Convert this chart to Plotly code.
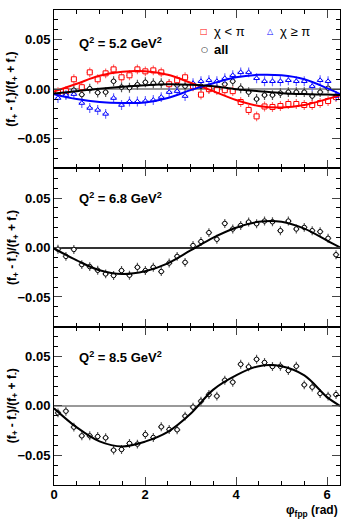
import numpy as np
import plotly.graph_objects as go
from plotly.subplots import make_subplots

# bin centres (degrees), 10 degree bins
phi_deg = [5, 15, 25, 35, 45, 55, 65, 75, 85, 95, 105, 115, 125, 135, 145, 155, 165, 175,
           185, 195, 205, 215, 225, 235, 245, 255, 265, 275, 285, 295, 305, 315, 325, 335, 345, 355]

# Q2 = 5.2 GeV2
q52_lo = [-0.003, -0.002, 0.010, 0.002, 0.017, 0.010, 0.016, 0.020, 0.012, 0.014, 0.020, 0.018,
          0.019, 0.017, 0.005, 0.009, 0.012, 0.003, -0.0055, 0.000, -0.001, -0.001, -0.002, -0.013,
          -0.021, -0.0275, -0.0175, -0.018, -0.017, -0.015, -0.015, -0.016, -0.016, -0.014, -0.012, -0.008]
q52_hi = [-0.009, -0.006, -0.005, -0.014, -0.019, -0.021, -0.025, -0.009, -0.016, -0.0125, -0.0125, -0.012,
          -0.011, -0.008, -0.003, -0.002, -0.007, 0.006, 0.008, 0.009, 0.008, 0.011, 0.014, 0.017,
          0.017, 0.011, 0.008, 0.008, 0.008, 0.009, 0.008, 0.008, 0.003, 0.009, 0.008, -0.007]
q52_all = [-0.004, -0.005, -0.001, -0.0055, 0.0005, -0.0035, -0.003, 0.008, 0.002, 0.0015, 0.0045, 0.007,
           0.006, 0.006, 0.005, 0.004, 0.003, 0.0035, 0.003, 0.001, 0.001, 0.005, 0.008, 0.001,
           -0.003, -0.010, -0.006, -0.006, -0.004, -0.003, -0.003, -0.003, -0.007, -0.003, 0.001, -0.007]

# Q2 = 6.8 GeV2
q68_all = [-0.0017, -0.009, -0.002, -0.0173, -0.0193, -0.023, -0.0267, -0.0283, -0.0233, -0.028, -0.020, -0.0233,
           -0.020, -0.0243, -0.0157, -0.009, -0.015, 0.002, 0.006, 0.015, 0.0083, 0.0243, 0.0187, 0.0223,
           0.0257, 0.024, 0.0267, 0.026, 0.017, 0.0267, 0.0187, 0.0203, 0.017, 0.016, 0.0093, -0.0073]

# Q2 = 8.5 GeV2
q85_all = [-0.0071, -0.0054, -0.0215, -0.0303, -0.0303, -0.031, -0.0323, -0.0448, -0.0441, -0.038, -0.0387, -0.029,
           -0.032, -0.0212, -0.0239, -0.0242, -0.0104, -0.0013, 0.0047, 0.0114, 0.0098, 0.0259, 0.0239, 0.042,
           0.0394, 0.047, 0.0438, 0.0397, 0.040, 0.0357, 0.040, 0.0212, 0.0189, 0.0125, 0.0098, 0.0114]

err_52 = 0.005
err_68 = 0.0045
err_85 = 0.0045
err_phi = 0.07

# fitted curves
fit_x = [0, 0.5, 1.0, 1.5, 2.0, 2.5, 3.0, 3.5, 4.0, 4.5, 5.0, 5.5, 6.0, 6.283]
fit52_lo = [-0.0025, 0.0055, 0.0135, 0.0175, 0.018, 0.0145, 0.0065, -0.002, -0.011, -0.017, -0.0185, -0.016, -0.010, -0.006]
fit52_hi = [-0.005, -0.010, -0.013, -0.014, -0.0135, -0.009, -0.001, 0.006, 0.012, 0.0145, 0.014, 0.010, 0.001, -0.005]
fit52_all = [-0.0045, -0.002, 0.0005, 0.0025, 0.004, 0.005, 0.0045, 0.003, 0.000, -0.002, -0.004, -0.005, -0.0055, -0.006]
fit68 = [-0.001, -0.013, -0.023, -0.0268, -0.024, -0.016, -0.003, 0.010, 0.020, 0.026, 0.026, 0.019, 0.007, 0.000]
fit85 = [-0.0025, -0.0218, -0.0359, -0.041, -0.0362, -0.0264, -0.0081, 0.0164, 0.0308, 0.0401, 0.040, 0.0307, 0.0088, 0.000]

phi = np.deg2rad(phi_deg)
FONT = "Liberation Sans, Arial, Helvetica, sans-serif"

fig = make_subplots(rows=3, cols=1, shared_xaxes=True, vertical_spacing=0)


def add_points(row, y, err, color, barcolor, symbol, size):
    # white-filled marker so the error bars stop at its edge, like ROOT open markers
    fig.add_trace(go.Scatter(x=phi, y=y, mode="markers",
                             marker=dict(symbol=symbol, size=size, color="white",
                                         line=dict(color=color, width=1)),
                             error_y=dict(type="constant", value=err, color=barcolor, thickness=1.2, width=0),
                             error_x=dict(type="constant", value=err_phi, color=barcolor, thickness=1.2, width=0),
                             showlegend=False), row=row, col=1)


def add_fit(row, y, color):
    fig.add_trace(go.Scatter(x=fit_x, y=y, mode="lines", line=dict(color=color, width=2, shape="spline"),
                             showlegend=False, hoverinfo="skip"), row=row, col=1)


add_points(1, q52_all, err_52, "black", "#555555", "circle", 4.5)
add_points(1, q52_lo, err_52, "red", "#ff6a6a", "square", 5)
add_points(1, q52_hi, err_52, "blue", "#6a6aff", "triangle-up", 5)
add_fit(1, fit52_lo, "red")
add_fit(1, fit52_hi, "blue")
add_fit(1, fit52_all, "black")

add_points(2, q68_all, err_68, "black", "#555555", "circle", 4.5)
add_fit(2, fit68, "black")

add_points(3, q85_all, err_85, "black", "#555555", "circle", 4.5)
add_fit(3, fit85, "black")

zero_cols = ["#999999", "#333333", "#999999"]
for r in range(1, 4):
    fig.update_xaxes(range=[0, 2 * np.pi], dtick=2, tick0=0, ticks="inside", ticklen=8,
                     showline=True, linecolor="black", linewidth=1, mirror="allticks",
                     showgrid=False, zeroline=False, automargin=False,
                     minor=dict(dtick=0.5, ticks="inside", ticklen=4, tickcolor="black"),
                     tickfont=dict(family=FONT, size=13, color="black", weight="bold"),
                     ticklabelstandoff=-3,
                     showticklabels=(r == 3), row=r, col=1)
    fig.update_yaxes(range=[-0.08, 0.08], dtick=0.05, tick0=0, tickformat=".2f",
                     ticks="inside", ticklen=8, showline=True, linecolor="black", linewidth=1,
                     mirror="allticks", showgrid=False, automargin=False,
                     zeroline=True, zerolinecolor=zero_cols[r - 1], zerolinewidth=1.5,
                     minor=dict(dtick=0.01, ticks="inside", ticklen=4, tickcolor="black"),
                     tickfont=dict(family=FONT, size=13, color="black", weight="bold"),
                     row=r, col=1)

ytitle = "<b>(f<sub>+</sub> - f<sub>-</sub>)/(f<sub>+</sub> + f<sub>-</sub>)</b>"
q2_labels = ["5.2", "6.8", "8.5"]
q2_y = [0.047, 0.050, 0.049]
for r, (lab, yy) in enumerate(zip(q2_labels, q2_y), start=1):
    sfx = "" if r == 1 else str(r)
    fig.add_annotation(x=0.5, y=yy, xref="x" + sfx, yref="y" + sfx,
                       text=f"<b>Q<sup>2</sup> = {lab} GeV<sup>2</sup></b>", showarrow=False,
                       xanchor="left", yanchor="middle",
                       font=dict(family=FONT, size=13, color="black"))
    fig.add_annotation(x=-0.145, y=0, xref="paper", yref="y" + sfx, text=ytitle, textangle=-90,
                       showarrow=False, xanchor="center", yanchor="middle",
                       font=dict(family=FONT, size=12, color="black"))

# legend drawn as text in the top panel
legend_items = [("□", "red", "χ < π", 3.30, 0.0587),
                ("△", "blue", "χ ≥ π", 4.76, 0.0587),
                ("○", "black", "<b>all</b>", 3.30, 0.0396)]
for sym, col, lab, lx, ly in legend_items:
    fig.add_annotation(x=lx, y=ly, xref="x", yref="y", text=sym, showarrow=False,
                       xanchor="center", yanchor="middle", font=dict(family="DejaVu Sans", size=8, color=col))
    fig.add_annotation(x=lx + 0.17, y=ly, xref="x", yref="y", text=lab, showarrow=False,
                       xanchor="left", yanchor="middle", font=dict(family=FONT, size=13, color="black"))

fig.add_annotation(x=1, y=-0.055, xref="paper", yref="paper", showarrow=False,
                   text="<b>φ<sub>fpp</sub> (rad)</b>", xanchor="right", yanchor="middle",
                   font=dict(family=FONT, size=12, color="black"))

fig.update_layout(width=353, height=519, margin=dict(l=54, r=13, t=10, b=34),
                  paper_bgcolor="white", plot_bgcolor="white", showlegend=False)

# drop the browser's default page margin so the figure sits at the window's corner
fig.write_html("out.html", config={"displayModeBar": False},
               post_script="document.body.style.margin='0';")
